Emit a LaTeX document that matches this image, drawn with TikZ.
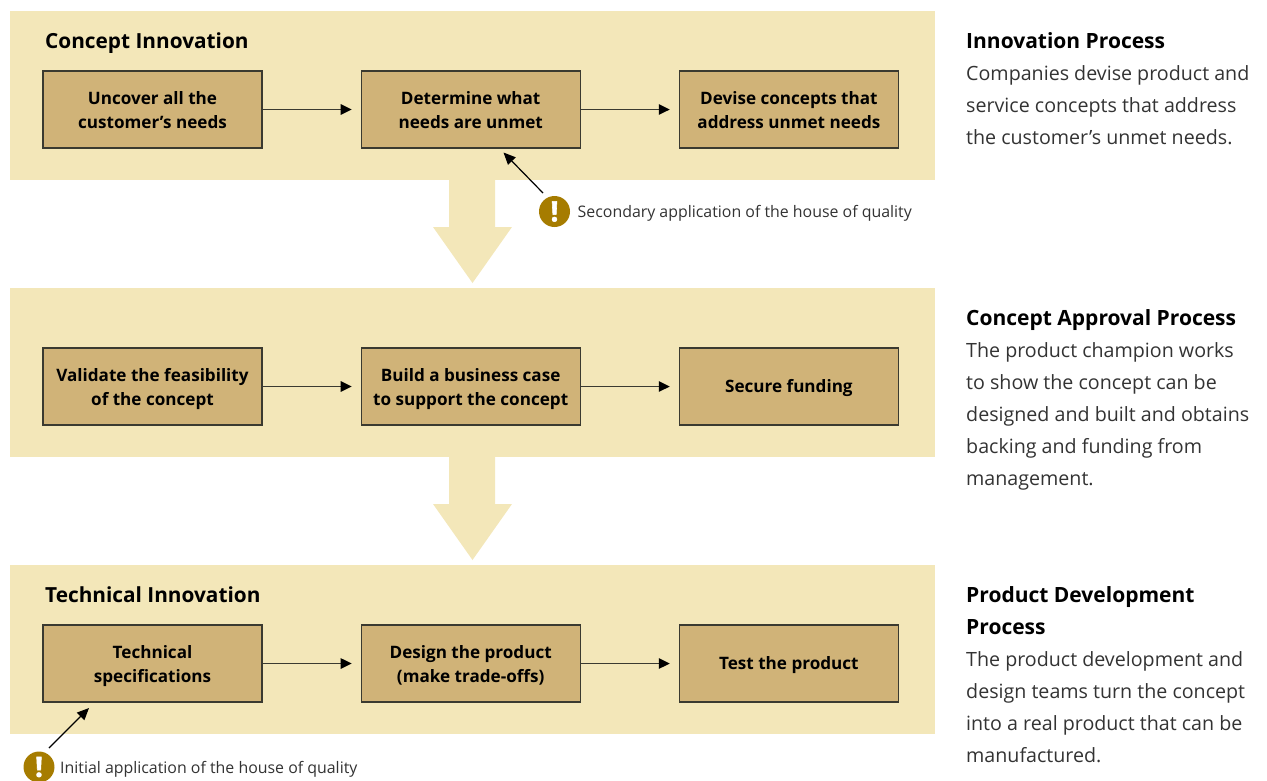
\documentclass[tikz,border=0pt]{standalone}
\usepackage{fontspec}
\setmainfont{Open Sans}
\usepackage{xcolor}
\usetikzlibrary{positioning}
\usetikzlibrary{arrows.meta}
\definecolor{bandcol}{HTML}{F3E7B9}
\definecolor{boxcol}{HTML}{D0B378}
\definecolor{notecol}{HTML}{A67C00}
\definecolor{linecol}{HTML}{3A3A30}
\newcommand{\sidehead}[1]{{\fontsize{21}{32}\selectfont\bfseries\color{black}#1}}
\tikzset{
	band node/.style={fill=bandcol,minimum width=925pt,minimum height=169pt,inner sep=0pt},
	step node/.style={rectangle,draw=linecol,line width=1.2pt,fill=boxcol,minimum width=219pt,minimum height=77pt,inner sep=0pt,align=center,text height=42pt,text depth=5pt,font=\fontsize{17.1}{24}\selectfont\bfseries},
	one line/.style={text height=18pt,text depth=6pt},
	title node/.style={anchor=base west,inner sep=0pt,font=\fontsize{20.8}{26}\selectfont\bfseries},
	side node/.style={anchor=north west,inner sep=0pt,align=left,text=black!80,font=\fontsize{19.65}{32}\selectfont},
	note node/.style={circle,fill=notecol,minimum size=31pt,inner sep=0pt,text=white,font=\fontsize{28}{28}\selectfont\bfseries\addfontfeatures{FakeBold=2}},
	note text/.style={anchor=west,inner sep=0pt,text=black!80,font=\fontsize{15.9}{22}\selectfont},
	flow/.style={draw=linecol,line width=1.5pt,-{Triangle[length=11pt,width=10.5pt,color=black]},shorten >=9pt},
	pointer/.style={draw=black,line width=1.2pt,-{Triangle[length=12pt,width=10.5pt]}}
}

\begin{document}
\begin{tikzpicture}[x=1pt,y=-1pt]
	\useasboundingbox (0,0) rectangle (1267,780);
	\node [band node] (b1) at (472.5,95.5) {};
	\node [band node] (b2) at (472.5,372.5) {};
	\node [band node] (b3) at (472.5,649.5) {};
	% big arrows between the bands
	\fill [bandcol] (449,180) -- (495,180) -- (495,227) -- (512,227) -- (472.5,283) -- (433,227) -- (449,227) -- cycle;
	\fill [bandcol] (449,457) -- (495,457) -- (495,504) -- (512,504) -- (472.5,560) -- (433,504) -- (449,504) -- cycle;
	\node [title node] (t1) at (45,48) {Concept Innovation};
	\node [title node] (t3) at (45,602) {Technical Innovation};
	% first row
	\node [step node] (s1) at (152.5,109.5) {Uncover all the\\customer’s needs};
	\node [step node,right=98pt of s1] (s2) {Determine what\\needs are unmet};
	\node [step node,right=98pt of s2] (s3) {Devise concepts that\\address unmet needs};
	% second row
	\node [step node] (s4) at (152.5,386.5) {Validate the feasibility\\of the concept};
	\node [step node,right=98pt of s4] (s5) {Build a business case\\to support the concept};
	\node [step node,one line,right=98pt of s5] (s6) {Secure funding};
	% third row
	\node [step node] (s7) at (152.5,663.5) {Technical\\specifications};
	\node [step node,right=98pt of s7] (s8) {Design the product\\(make trade-offs)};
	\node [step node,one line,right=98pt of s8] (s9) {Test the product};
	\foreach \a/\b in {s1/s2,s2/s3,s4/s5,s5/s6,s7/s8,s8/s9}
		\draw [flow] (\a) -- (\b);
	% notes
	\node [note node] (n1) at (554.5,211.5) {!};
	\node [note text] (l1) at (577.5,213) {Secondary application of the house of quality};
	\coordinate (p1) at (503.5,152.5);
	\draw [pointer] (543,193) -- (p1);
	\node [note node] (n2) at (39,767) {!};
	\node [note text] (l2) at (60,769.5) {Initial application of the house of quality};
	\coordinate (p2) at (89,708);
	\draw [pointer] (49,748) -- (p2);
	% right column
	\node [side node] (d1) at (966,32) {\sidehead{Innovation Process}\\Companies devise product and\\service concepts that address\\the customer’s unmet needs.};
	\node [side node] (d2) at (966,309) {\sidehead{Concept Approval Process}\\The product champion works\\to show the concept can be\\designed and built and obtains\\backing and funding from\\management.};
	\node [side node] (d3) at (966,586) {\sidehead{Product Development}\\\sidehead{Process}\\The product development and\\design teams turn the concept\\into a real product that can be\\manufactured.};
\end{tikzpicture}
\end{document}
